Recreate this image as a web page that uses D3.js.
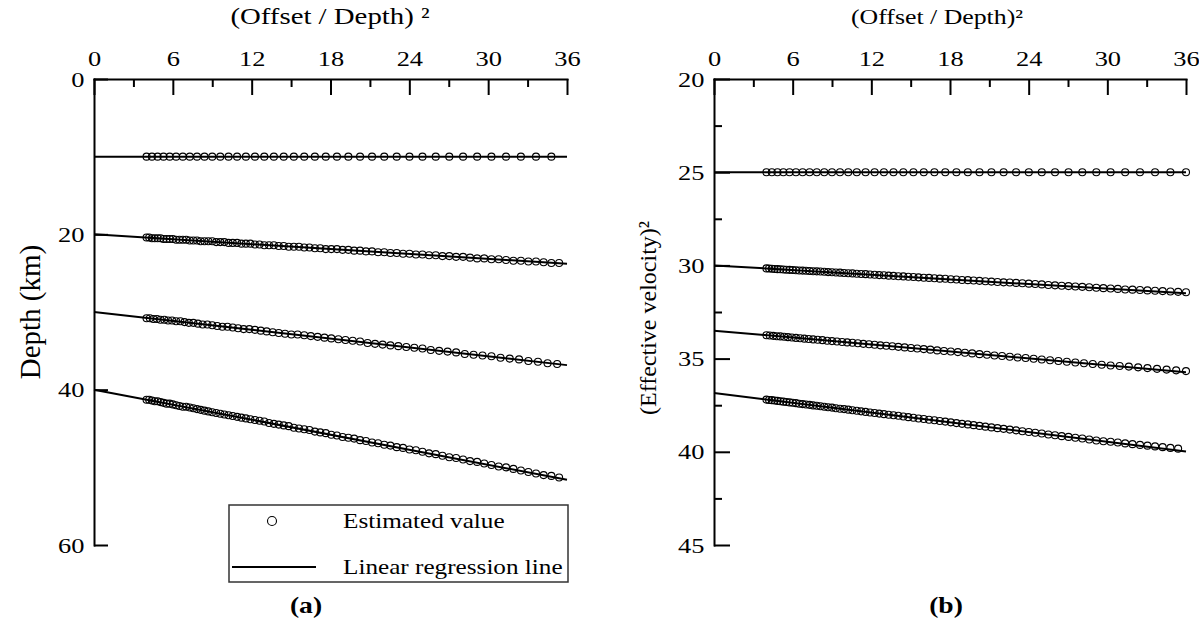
<!DOCTYPE html>
<html>
<head>
<meta charset="utf-8">
<script src="https://cdn.jsdelivr.net/npm/d3@7"></script>
<style>
  body { margin: 0; background: #fff; }
  svg text { font-family: "Liberation Serif", "Times New Roman", serif; }
</style>
</head>
<body>
<script>
// ---- data ----
// x = (offset / depth)^2 sample positions
var xSparse = [4.00, 4.41, 4.84, 5.29, 5.76, 6.25, 6.76, 7.29, 7.84, 8.41, 9.00, 9.61, 10.24, 10.89,
  11.56, 12.25, 12.96, 13.69, 14.44, 15.21, 16.00, 16.81, 17.64, 18.49, 19.36, 20.25, 21.16, 22.09,
  23.04, 24.01, 25.00, 26.01, 27.04, 28.09, 29.16, 30.25, 31.36, 32.49, 33.64, 34.81, 36.00];
var xDense = [4.00, 4.20, 4.41, 4.62, 4.84, 5.06, 5.29, 5.52, 5.76, 6.00, 6.25, 6.50, 6.76, 7.02,
  7.29, 7.56, 7.84, 8.12, 8.41, 8.70, 9.00, 9.30, 9.61, 9.92, 10.24, 10.56, 10.89, 11.22, 11.56,
  11.90, 12.25, 12.60, 12.96, 13.32, 13.69, 14.06, 14.44, 14.82, 15.21, 15.60, 16.00, 16.40, 16.81,
  17.22, 17.64, 18.06, 18.49, 18.92, 19.36, 19.80, 20.25, 20.70, 21.16, 21.62, 22.09, 22.56, 23.04,
  23.52, 24.01, 24.50, 25.00, 25.50, 26.01, 26.52, 27.04, 27.56, 28.09, 28.62, 29.16, 29.70, 30.25,
  30.80, 31.36, 31.92, 32.49, 33.06, 33.64, 34.22, 34.81, 35.40, 36.00];
var xMid = [4.00, 4.25, 4.52, 4.79, 5.06, 5.35, 5.64, 5.94, 6.25, 6.57, 6.89, 7.22, 7.56, 7.91,
  8.27, 8.63, 9.00, 9.38, 9.77, 10.16, 10.56, 10.97, 11.39, 11.82, 12.25, 12.69, 13.14, 13.60,
  14.06, 14.54, 15.02, 15.50, 16.00, 16.50, 17.02, 17.54, 18.06, 18.60, 19.14, 19.69, 20.25, 20.82,
  21.39, 21.97, 22.56, 23.16, 23.77, 24.38, 25.00, 25.63, 26.27, 26.91, 27.56, 28.22, 28.89, 29.57,
  30.25, 30.94, 31.64, 32.35, 33.06, 33.79, 34.52, 35.25, 36.00];

// (a) estimated depth (km)
var depthLayer1 = [10, 10, 10, 10, 10, 10, 10, 10, 10, 10, 10, 10, 10, 10, 10, 10, 10, 10, 10, 10,
  10, 10, 10, 10, 10, 10, 10, 10, 10, 10, 10, 10, 10, 10, 10, 10, 10, 10, 10, 10];
var depthLayer2 = [20.4, 20.4, 20.5, 20.5, 20.5, 20.5, 20.6, 20.6, 20.6, 20.6,
  20.7, 20.7, 20.7, 20.7, 20.8, 20.8, 20.8, 20.9, 20.9, 20.9,
  20.9, 21.0, 21.0, 21.0, 21.1, 21.1, 21.1, 21.2, 21.2, 21.2,
  21.3, 21.3, 21.4, 21.4, 21.4, 21.5, 21.5, 21.6, 21.6, 21.6,
  21.7, 21.7, 21.8, 21.8, 21.9, 21.9, 21.9, 22.0, 22.0, 22.1,
  22.1, 22.2, 22.2, 22.3, 22.3, 22.4, 22.4, 22.5, 22.5, 22.6,
  22.6, 22.7, 22.7, 22.8, 22.8, 22.9, 22.9, 23.0, 23.1, 23.1,
  23.2, 23.2, 23.3, 23.4, 23.4, 23.5, 23.5, 23.6, 23.7, 23.7];
var depthLayer3 = [30.8, 30.8, 30.9, 30.9, 31.0, 31.0, 31.1, 31.1, 31.2, 31.2,
  31.3, 31.4, 31.4, 31.5, 31.6, 31.6, 31.7, 31.8, 31.9, 31.9,
  32.0, 32.1, 32.2, 32.2, 32.3, 32.4, 32.5, 32.6, 32.7, 32.8,
  32.9, 32.9, 33.0, 33.1, 33.2, 33.3, 33.4, 33.5, 33.6, 33.7,
  33.8, 34.0, 34.1, 34.2, 34.3, 34.4, 34.5, 34.6, 34.7, 34.9,
  35.0, 35.1, 35.2, 35.4, 35.5, 35.6, 35.7, 35.9, 36.0, 36.1,
  36.3, 36.4, 36.6, 36.7];
var depthLayer4 = [41.3, 41.3, 41.4, 41.5, 41.5, 41.6, 41.7, 41.8, 41.8, 41.9,
  42.0, 42.1, 42.2, 42.2, 42.3, 42.4, 42.5, 42.6, 42.7, 42.8,
  42.9, 43.0, 43.1, 43.2, 43.3, 43.4, 43.5, 43.6, 43.7, 43.8,
  43.9, 44.0, 44.1, 44.3, 44.4, 44.5, 44.6, 44.7, 44.9, 45.0,
  45.1, 45.2, 45.4, 45.5, 45.6, 45.8, 45.9, 46.1, 46.2, 46.3,
  46.5, 46.6, 46.8, 46.9, 47.1, 47.2, 47.4, 47.5, 47.7, 47.8,
  48.0, 48.2, 48.3, 48.5, 48.7, 48.8, 49.0, 49.2, 49.3, 49.5,
  49.7, 49.9, 50.0, 50.2, 50.4, 50.6, 50.8, 51.0, 51.1, 51.3];

// (b) estimated (effective velocity)^2
var velLayer1 = [25, 25, 25, 25, 25, 25, 25, 25, 25, 25, 25, 25, 25, 25, 25, 25, 25, 25, 25, 25,
  25, 25, 25, 25, 25, 25, 25, 25, 25, 25, 25, 25, 25, 25, 25, 25, 25, 25, 25, 25, 25];
var velLayer2 = [30.16, 30.17, 30.18, 30.19, 30.20, 30.21, 30.22, 30.23, 30.24, 30.25,
  30.26, 30.27, 30.28, 30.29, 30.30, 30.31, 30.32, 30.33, 30.34, 30.36,
  30.37, 30.38, 30.39, 30.41, 30.42, 30.43, 30.45, 30.46, 30.47, 30.49,
  30.50, 30.52, 30.53, 30.55, 30.56, 30.58, 30.59, 30.61, 30.62, 30.64,
  30.66, 30.67, 30.69, 30.71, 30.72, 30.74, 30.76, 30.78, 30.79, 30.81,
  30.83, 30.85, 30.87, 30.89, 30.91, 30.92, 30.94, 30.96, 30.98, 31.00,
  31.02, 31.05, 31.07, 31.09, 31.11, 31.13, 31.15, 31.17, 31.20, 31.22,
  31.24, 31.26, 31.29, 31.30, 31.32, 31.34, 31.36, 31.38, 31.40, 31.42,
  31.44];
var velLayer3 = [33.75, 33.76, 33.78, 33.80, 33.81, 33.83, 33.85, 33.87, 33.89, 33.91,
  33.93, 33.95, 33.97, 33.99, 34.01, 34.04, 34.06, 34.08, 34.11, 34.13,
  34.15, 34.18, 34.21, 34.23, 34.26, 34.29, 34.31, 34.34, 34.37, 34.40,
  34.43, 34.46, 34.49, 34.52, 34.56, 34.59, 34.62, 34.65, 34.69, 34.72,
  34.76, 34.79, 34.83, 34.86, 34.90, 34.94, 34.97, 35.01, 35.05, 35.09,
  35.13, 35.17, 35.21, 35.25, 35.29, 35.33, 35.37, 35.40, 35.43, 35.47,
  35.51, 35.55, 35.59, 35.63, 35.67];
var velLayer4 = [37.20, 37.22, 37.23, 37.25, 37.27, 37.29, 37.31, 37.33, 37.35, 37.37,
  37.39, 37.42, 37.44, 37.46, 37.48, 37.51, 37.53, 37.56, 37.58, 37.61,
  37.63, 37.66, 37.69, 37.71, 37.74, 37.77, 37.80, 37.83, 37.86, 37.89,
  37.92, 37.95, 37.98, 38.01, 38.04, 38.07, 38.11, 38.14, 38.17, 38.21,
  38.24, 38.28, 38.31, 38.35, 38.38, 38.42, 38.46, 38.50, 38.53, 38.57,
  38.61, 38.65, 38.69, 38.73, 38.77, 38.81, 38.85, 38.90, 38.94, 38.98,
  39.02, 39.07, 39.11, 39.16, 39.20, 39.25, 39.29, 39.34, 39.39, 39.43,
  39.46, 39.50, 39.55, 39.59, 39.63, 39.67, 39.71, 39.75, 39.79, 39.83];

// regression lines: value at x = 0 and at x = 36
var fitX = [0, 36];
var depthFitStart = [10, 20, 30, 40];
var depthFitEnd = [10, 23.78, 36.84, 51.6];
var velFitStart = [25, 30, 33.5, 36.85];
var velFitEnd = [25, 31.5, 35.73, 39.98];

// ticks and labels
var xTicks = [0, 6, 12, 18, 24, 30, 36];
var xMinor = [3, 9, 15, 21, 27, 33];
var depthTicks = [0, 20, 40, 60];
var velTicks = [20, 25, 30, 35, 40, 45];
var velMinor = [22.5, 27.5, 32.5, 37.5, 42.5];
var legendLabels = ["Estimated value", "Linear regression line"];

// ---- drawing ----
var serif = "Liberation Serif, Times New Roman, serif";
var wide = "scale(1.2,1)";   // lettering in the figure is a bit wider than plain Times

var svg = d3.select("body").append("svg")
    .attr("width", 1199)
    .attr("height", 638);

function styleAxis(a, fontSize) {
    a.attr("font-family", serif).attr("font-size", fontSize);
    a.selectAll("line").attr("stroke", "#000").attr("stroke-width", 2);
    a.select(".domain").attr("stroke", "#000").attr("stroke-width", 2)
        .attr("stroke-linecap", "square");
    a.selectAll("text").attr("fill", "#000").attr("transform", wide);
}

function drawPanel(p) {
    var x = d3.scaleLinear().domain([0, 36]).range(p.xRange);
    var y = d3.scaleLinear().domain(p.yDomain).range([79, 545]);
    var g = svg.append("g");

    // top axis, ticks pointing down into the plot
    g.append("g")
        .attr("transform", "translate(0,79)")
        .call(d3.axisTop(x).tickValues(xMinor).tickSize(-8).tickFormat(""))
        .call(function(a) { a.select(".domain").remove(); styleAxis(a, 22); });
    g.append("g")
        .attr("transform", "translate(0,79)")
        .call(d3.axisTop(x).tickValues(xTicks).tickSizeInner(-16).tickSizeOuter(0).tickPadding(13))
        .call(function(a) { styleAxis(a, 22); });

    // left axis
    if (p.yMinor) {
        g.append("g")
            .attr("transform", "translate(" + p.xRange[0] + ",0)")
            .call(d3.axisLeft(y).tickValues(p.yMinor).tickSize(-8).tickFormat(""))
            .call(function(a) { a.select(".domain").remove(); styleAxis(a, 22); });
    }
    g.append("g")
        .attr("transform", "translate(" + p.xRange[0] + ",0)")
        .call(d3.axisLeft(y).tickValues(p.yTicks).tickSizeInner(-p.yTickLen).tickSizeOuter(0).tickPadding(8))
        .call(function(a) { styleAxis(a, 22); });

    // regression lines
    var line = d3.line().x(function(d) { return x(d[0]); }).y(function(d) { return y(d[1]); });
    for (var i = 0; i < p.fitStart.length; i++) {
        g.append("path")
            .datum([[fitX[0], p.fitStart[i]], [fitX[1], p.fitEnd[i]]])
            .attr("d", line)
            .attr("fill", "none")
            .attr("stroke", "#000")
            .attr("stroke-width", 2);
    }

    // estimated values
    p.series.forEach(function(s) {
        var pts = s.y.map(function(v, i) { return [s.x[i], v]; });
        g.append("g").selectAll("circle")
            .data(pts)
            .enter()
            .append("circle")
            .attr("cx", function(d) { return x(d[0]); })
            .attr("cy", function(d) { return y(d[1]); })
            .attr("r", 3.5)
            .attr("fill", "none")
            .attr("stroke", "#000")
            .attr("stroke-width", 1.1);
    });

    // titles
    g.append("text")
        .attr("transform", "translate(" + p.titleX + ",24) " + wide)
        .attr("text-anchor", "middle")
        .attr("font-size", p.titleSize)
        .text(p.title);
    g.append("text")
        .attr("transform", "translate(" + p.yTitleX + "," + p.yTitleY + ") rotate(-90)")
        .attr("text-anchor", "middle")
        .attr("dy", "0.35em")
        .attr("font-size", p.yTitleSize)
        .text(p.yTitle);
    g.append("text")
        .attr("transform", "translate(" + p.tagX + ",613) " + wide)
        .attr("text-anchor", "middle")
        .attr("font-size", 23)
        .attr("font-weight", "bold")
        .text(p.tag);
}

drawPanel({
    xRange: [94, 567],
    yDomain: [0, 60],
    yTicks: depthTicks,
    yMinor: null,
    yTickLen: 14,
    fitStart: depthFitStart,
    fitEnd: depthFitEnd,
    series: [
        {x: xSparse, y: depthLayer1},
        {x: xDense, y: depthLayer2},
        {x: xMid, y: depthLayer3},
        {x: xDense, y: depthLayer4}
    ],
    title: "(Offset / Depth) \u00b2",
    titleX: 330,
    titleSize: 24,
    yTitle: "Depth (km)",
    yTitleX: 30,
    yTitleY: 312,
    yTitleSize: 29,
    tag: "(a)",
    tagX: 306
});

drawPanel({
    xRange: [714, 1186],
    yDomain: [20, 45],
    yTicks: velTicks,
    yMinor: velMinor,
    yTickLen: 16,
    fitStart: velFitStart,
    fitEnd: velFitEnd,
    series: [
        {x: xSparse, y: velLayer1},
        {x: xDense, y: velLayer2},
        {x: xMid, y: velLayer3},
        {x: xDense, y: velLayer4}
    ],
    title: "(Offset / Depth)\u00b2",
    titleX: 937,
    titleSize: 21.5,
    yTitle: "(Effective velocity)\u00b2",
    yTitleX: 648,
    yTitleY: 318,
    yTitleSize: 24,
    tag: "(b)",
    tagX: 946
});

// legend of panel (a)
var legend = svg.append("g");
legend.append("rect")
    .attr("x", 229).attr("y", 505)
    .attr("width", 339).attr("height", 77)
    .attr("fill", "#fff")
    .attr("stroke", "#333")
    .attr("stroke-width", 1.5);
legend.append("circle")
    .attr("cx", 272).attr("cy", 521).attr("r", 4.5)
    .attr("fill", "none").attr("stroke", "#000").attr("stroke-width", 1.1);
legend.append("line")
    .attr("x1", 232).attr("x2", 316).attr("y1", 567).attr("y2", 567)
    .attr("stroke", "#000").attr("stroke-width", 2);
legend.selectAll("text.lab")
    .data(legendLabels)
    .enter()
    .append("text")
    .attr("class", "lab")
    .attr("transform", function(d, i) { return "translate(343," + (521 + i * 46) + ") " + wide; })
    .attr("dy", "0.35em")
    .attr("font-size", 21)
    .text(function(d) { return d; });
</script>
</body>
</html>
